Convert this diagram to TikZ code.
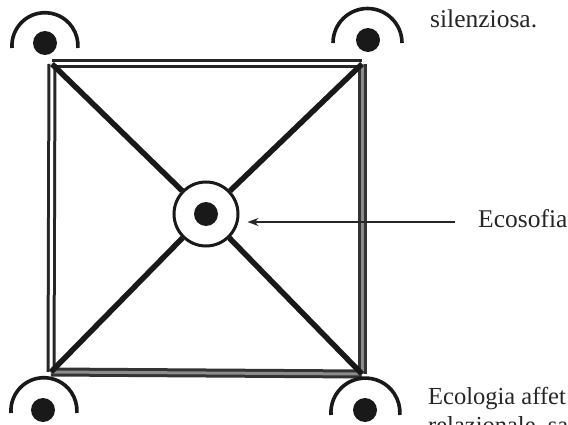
\documentclass[tikz,border=0pt]{standalone}
\usepackage{fontspec}
\setmainfont{Liberation Serif}
\usetikzlibrary{arrows.meta}
\begin{document}
\begin{tikzpicture}[x=1pt,y=1pt,
  edgew/.style={draw=black!85,line width=3pt,double distance=3pt,double=white},
  edgeg/.style={draw=black!80,line width=3pt,double distance=3pt,double=black!45},
  diag/.style={draw=black!90,line width=5.5pt},
  dot/.style={circle,fill=black!90,inner sep=0pt,minimum size=24pt},
  halo/.style={draw=black!90,line width=3.6pt},
  lbl/.style={anchor=base west,inner sep=0pt,font=\fontsize{25.5}{30}\selectfont,text=black!85},
  lbls/.style={lbl,font=\fontsize{24.5}{29}\selectfont}]
\clip (0,0) rectangle (568,424);
\fill[white] (0,0) rectangle (568,424);
% corners
\coordinate (tl) at (52,360);
\coordinate (tr) at (362,360);
\coordinate (bl) at (51,52);
\coordinate (br) at (362,50);
% square edges
\draw[edgew] (tl) -- (tr);
\draw[edgew] (tl) -- (bl);
\draw[edgeg] (tr) -- (br);
\draw[edgeg] (bl) -- (br);
% centre
\node[circle,draw=black!90,line width=3pt,fill=white,minimum size=64pt,inner sep=0pt] (c) at (206,210) {};
\node[dot] (cd) at (c.center) {};
\draw[diag] (tl) -- (c);
\draw[diag] (tr) -- (c);
\draw[diag] (bl) -- (c);
\draw[diag] (br) -- (c);
% corner dots and arcs
\node[dot] (dtl) at (45,381) {};
\node[dot] (dtr) at (368,384) {};
\node[dot] (dbl) at (43,14) {};
\node[dot] (dbr) at (365,14) {};
\draw[halo] (12,376) arc[start angle=184,end angle=-4,radius=33];
\draw[halo] (333,381) arc[start angle=180,end angle=0,radius=34.5];
\draw[halo] (11,11) arc[start angle=184,end angle=-4,radius=33];
\draw[halo] (331,9) arc[start angle=184,end angle=-4,radius=34.5];
% arrow
\node[lbl] (eco) at (478,197) {Ecosofia};
\coordinate (as) at (455,202);
\coordinate (ae) at ([xshift=8pt]c.east |- as);
\draw[draw=black!85,line width=2.4pt,-{Stealth[length=11pt,width=8pt]}] (as) -- (ae);
% texts
\node[lbl] (sil) at (430,396) {silenziosa.};
\node[lbls] (ea) at (428,20) {Ecologia affet};
\node[lbls] (rel) at (428,-9) {relazionale, sa};
\end{tikzpicture}
\end{document}
